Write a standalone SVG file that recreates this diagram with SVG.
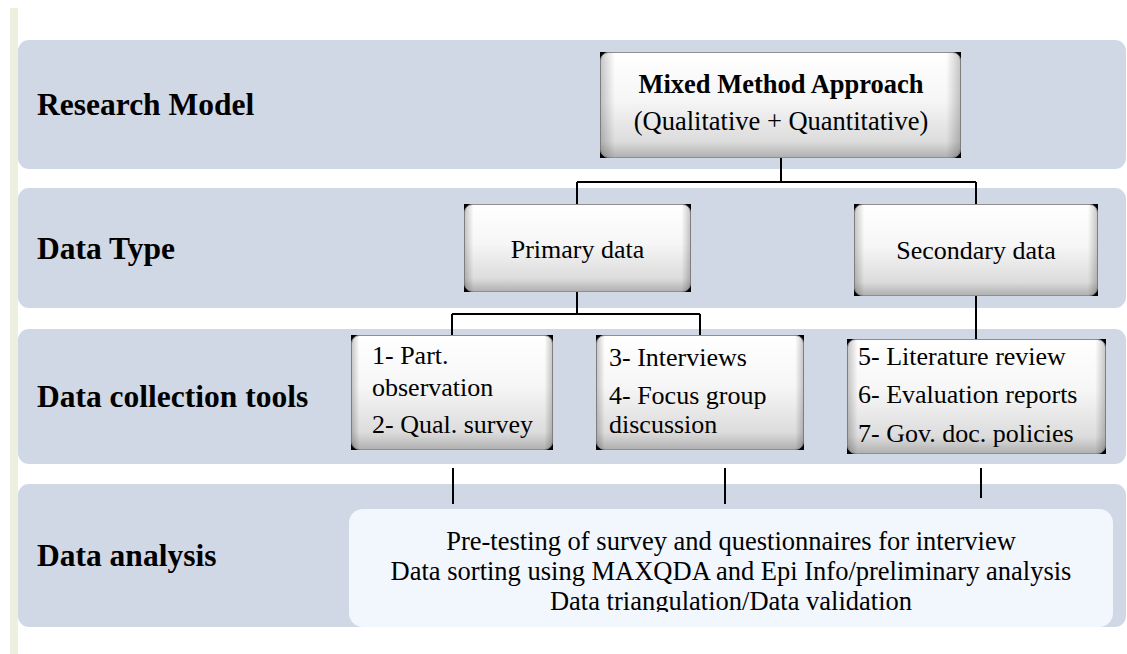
<svg xmlns="http://www.w3.org/2000/svg" width="1127" height="654" viewBox="0 0 1127 654">
  <defs>
    <linearGradient id="gv" x1="0" y1="0" x2="0" y2="1">
      <stop offset="0" stop-color="#ffffff"/>
      <stop offset="0.45" stop-color="#f6f6f6"/>
      <stop offset="0.85" stop-color="#dcdcdc"/>
      <stop offset="1" stop-color="#b0b0b0"/>
    </linearGradient>
    <linearGradient id="gh" x1="0" y1="0" x2="1" y2="0">
      <stop offset="0" stop-color="#000" stop-opacity="0.22"/>
      <stop offset="0.04" stop-color="#000" stop-opacity="0"/>
      <stop offset="0.96" stop-color="#000" stop-opacity="0"/>
      <stop offset="1" stop-color="#000" stop-opacity="0.22"/>
    </linearGradient>
    <clipPath id="clipDA">
      <rect x="349" y="509" width="764" height="103"/>
    </clipPath>
  </defs>
  <style>
    .band { fill: #d0d7e5; }
    .lbl { font-family: "Liberation Serif", "Times New Roman", serif; font-weight: bold; font-size: 31.5px; fill: #000; }
    .t { font-family: "Liberation Serif", "Times New Roman", serif; font-size: 26px; fill: #000; }
    .tc { font-family: "Liberation Serif", "Times New Roman", serif; font-size: 26.5px; fill: #000; text-anchor: middle; }
    .sh { fill: #000; }
    .bx { fill: url(#gv); stroke: #8e8e8e; stroke-width: 1; }
    .ov { fill: url(#gh); }
    .con { stroke: #000; stroke-width: 2; fill: none; }
  </style>

  <rect x="10" y="8" width="8" height="646" fill="#ebf1de"/>

  <g id="band1">
    <rect class="band" x="18" y="40" width="1108" height="129" rx="11"/>
    <text class="lbl" x="37" y="115">Research Model</text>
  </g>
  <g id="band2">
    <rect class="band" x="18" y="188" width="1108" height="120" rx="11"/>
    <text class="lbl" x="37" y="259">Data Type</text>
  </g>
  <g id="band3">
    <rect class="band" x="18" y="329" width="1108" height="135" rx="11"/>
    <text class="lbl" x="37" y="407">Data collection tools</text>
  </g>
  <g id="band4">
    <rect class="band" x="18" y="484" width="1108" height="143" rx="11"/>
    <text class="lbl" x="37" y="566">Data analysis</text>
  </g>

  <g id="connectors">
    <path class="con" d="M781 158 V182 M577 182 H976 M577 182 V204 M976 182 V204"/>
    <path class="con" d="M577 292 V314 M452 314 H700 M452 314 V335 M700 314 V335"/>
    <path class="con" d="M976 296 V339"/>
    <path class="con" d="M453 468 V504 M725 468 V504 M981 468 V498"/>
  </g>

  <g id="mixed">
    <rect class="sh" x="600" y="52" width="361" height="106"/>
    <rect class="bx" x="600.5" y="52.5" width="360" height="105" rx="8"/>
    <rect class="ov" x="600.5" y="52.5" width="360" height="105" rx="8"/>
    <text class="tc" x="781" y="93" font-weight="bold">Mixed Method Approach</text>
    <text class="tc" x="781" y="130">(Qualitative + Quantitative)</text>
  </g>

  <g id="primary">
    <rect class="sh" x="464" y="204" width="227" height="88"/>
    <rect class="bx" x="464.5" y="204.5" width="226" height="87" rx="8"/>
    <rect class="ov" x="464.5" y="204.5" width="226" height="87" rx="8"/>
    <text class="t" x="577.5" y="258" font-size="29" text-anchor="middle">Primary data</text>
  </g>

  <g id="secondary">
    <rect class="sh" x="854" y="204" width="244" height="92"/>
    <rect class="bx" x="854.5" y="204.5" width="243" height="91" rx="8"/>
    <rect class="ov" x="854.5" y="204.5" width="243" height="91" rx="8"/>
    <text class="t" x="976" y="259" font-size="29" text-anchor="middle">Secondary data</text>
  </g>

  <g id="tools1">
    <rect class="sh" x="351" y="335" width="202" height="115"/>
    <rect class="bx" x="351.5" y="335.5" width="201" height="114" rx="8"/>
    <rect class="ov" x="351.5" y="335.5" width="201" height="114" rx="8"/>
    <text class="t" x="372" y="364">1- Part.</text>
    <text class="t" x="372" y="396">observation</text>
    <text class="t" x="372" y="433">2- Qual. survey</text>
  </g>

  <g id="tools2">
    <rect class="sh" x="596" y="335" width="208" height="115"/>
    <rect class="bx" x="596.5" y="335.5" width="207" height="114" rx="8"/>
    <rect class="ov" x="596.5" y="335.5" width="207" height="114" rx="8"/>
    <text class="t" x="609" y="366">3- Interviews</text>
    <text class="t" x="609" y="404" font-size="25">4- Focus group</text>
    <text class="t" x="609" y="433" font-size="25">discussion</text>
  </g>

  <g id="tools3">
    <rect class="sh" x="847" y="339" width="259" height="115"/>
    <rect class="bx" x="847.5" y="339.5" width="258" height="114" rx="8"/>
    <rect class="ov" x="847.5" y="339.5" width="258" height="114" rx="8"/>
    <text class="t" x="858" y="365">5- Literature review</text>
    <text class="t" x="858" y="403">6- Evaluation reports</text>
    <text class="t" x="858" y="442">7- Gov. doc. policies</text>
  </g>

  <g id="analysis">
    <rect x="349" y="509" width="764" height="118" rx="14" fill="#f2f6fd"/>
    <g clip-path="url(#clipDA)">
      <text class="tc" x="731" y="550">Pre-testing of survey and questionnaires for interview</text>
      <text class="tc" x="731" y="580">Data sorting using MAXQDA and Epi Info/preliminary analysis</text>
      <text class="tc" x="731" y="610">Data triangulation/Data validation</text>
    </g>
  </g>
</svg>
